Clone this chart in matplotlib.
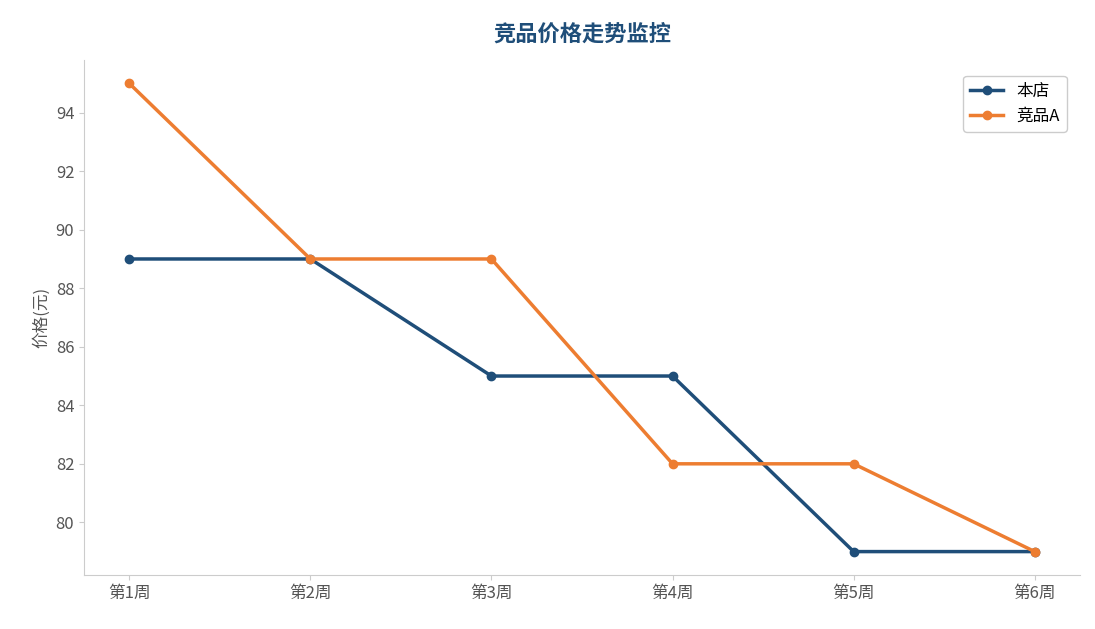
import matplotlib
matplotlib.use("Agg")
import matplotlib.pyplot as plt

plt.rcParams['font.family'] = ['Noto Sans CJK SC', 'DejaVu Sans']

weeks = ["第1周", "第2周", "第3周", "第4周", "第5周", "第6周"]
ours = [89, 89, 85, 85, 79, 79]
comp = [95, 89, 89, 82, 82, 79]

fig = plt.figure(figsize=(10.95, 6.29), dpi=100)
ax = fig.add_axes([84/1095, 1-575/629, (1080-84)/1095, (575-60)/629])
ax.plot(weeks, ours, color='#1f4e79', lw=2.5, marker='o', ms=6, label='本店')
ax.plot(weeks, comp, color='#ed7d31', lw=2.5, marker='o', ms=6, label='竞品A')
ax.set_yticks([80, 82, 84, 86, 88, 90, 92, 94])
ax.set_ylabel('价格(元)', color='#555555', fontsize=12, labelpad=4)
ax.set_title('竞品价格走势监控', color='#1f4e79', fontsize=16, fontweight='bold', pad=14)
for s in ['top', 'right']:
    ax.spines[s].set_visible(False)
for s in ['left', 'bottom']:
    ax.spines[s].set_color('#cccccc')
ax.tick_params(colors='#555555', labelsize=12)
ax.tick_params(axis='both', color='#cccccc')
ax.legend(loc='upper right', fontsize=12, framealpha=1, edgecolor='#cccccc',
          bbox_to_anchor=(0.995, 0.985))
fig.savefig('out.png', dpi=100)
